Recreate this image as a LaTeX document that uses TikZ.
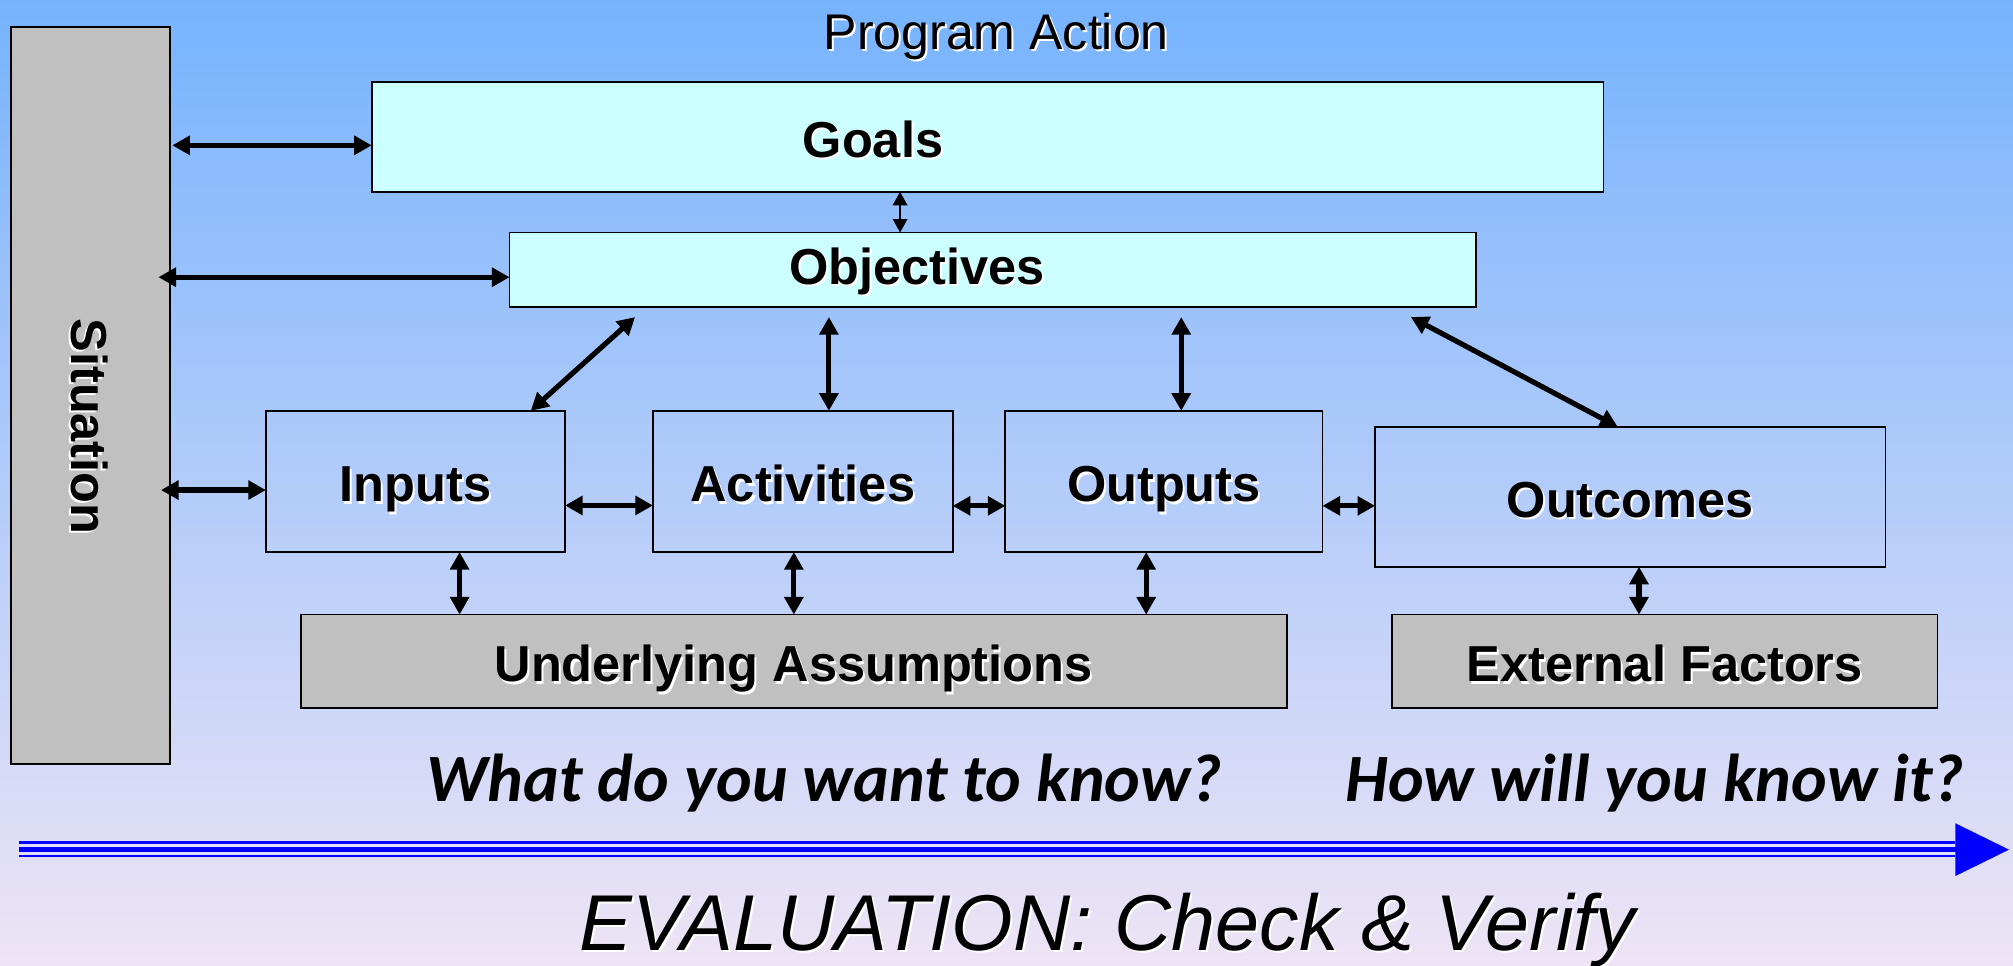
\documentclass[tikz,border=0pt]{standalone}
\usepackage{fontspec}
\setmainfont{Liberation Sans}
\newfontfamily\askfont{Carlito}
\usepackage{tikz}
\usetikzlibrary{shapes,arrows.meta,positioning,calc}
\usepackage{xcolor}
\definecolor{skytop}{HTML}{76B3FE}
\definecolor{skybottom}{HTML}{EEE4F5}
\definecolor{palecyan}{HTML}{CCFFFF}
\definecolor{panelgray}{HTML}{C0C0C0}
\definecolor{evalblue}{HTML}{0000FF}
\newcommand{\shtext}[1]{\makebox[0pt][l]{\hspace{0.45pt}\raisebox{-0.45pt}{\color{white}#1}}#1}

\begin{document}
\begin{tikzpicture}
    \tikzstyle{box} = [rectangle, draw, line width=0.4pt, inner sep=0pt, outer sep=0pt, text height=0.38cm, text depth=0.06cm, font=\fontsize{11.2}{13}\selectfont\bfseries]
    \tikzstyle{goalbox} = [box, fill=palecyan]
    \tikzstyle{factbox} = [box, fill=panelgray]
    \tikzstyle{boxtext} = [inner sep=0pt, text height=0.38cm, text depth=0.06cm, font=\fontsize{11.2}{13}\selectfont\bfseries]
    \tikzstyle{arrow} = [line width=1.15pt, {Triangle[length=3.9pt,width=4.1pt]}-{Triangle[length=3.9pt,width=4.1pt]}]
    \tikzstyle{thinarrow} = [line width=0.4pt, {Triangle[length=3pt,width=3.2pt]}-{Triangle[length=3pt,width=3.2pt]}]

    % Background
    \useasboundingbox (0,0) rectangle (15.68,-7.52);
    \shade[top color=skytop, bottom color=skybottom] (0,0) rectangle (15.68,-7.52);

    % Nodes
    \node[factbox, minimum width=1.24cm, minimum height=5.74cm] (sit) at (0.704,-3.082) {};
    \node[boxtext, rotate=-90] (sittxt) at ($(sit.center)+(0.01,-0.24)$) {\shtext{Situation}};

    \node[goalbox, minimum width=9.595cm, minimum height=0.857cm] (goals) at (7.693,-1.065) {};
    \node[boxtext] (goalstxt) at ($(goals.center)+(-0.893,0)$) {\shtext{Goals}};
    \node[goalbox, minimum width=7.53cm, minimum height=0.577cm] (obj) at (7.734,-2.10) {};
    \node[boxtext] (objtxt) at ($(obj.center)+(-0.591,0.047)$) {\shtext{Objectives}};

    \node[box, minimum width=2.33cm, minimum height=1.10cm] (inputs) at (3.236,-3.75) {\shtext{Inputs}};
    \node[box, minimum width=2.335cm, minimum height=1.10cm, right=0.685cm of inputs] (act) {\shtext{Activities}};
    \node[box, minimum width=2.47cm, minimum height=1.10cm, right=0.41cm of act] (out) {\shtext{Outputs}};
    \node[box, minimum width=3.975cm, minimum height=1.09cm, right=0.41cm of out, yshift=-0.119cm] (outc) {\shtext{Outcomes}};

    \node[factbox, minimum width=7.68cm, minimum height=0.73cm] (assum) at (6.182,-5.152) {\shtext{Underlying Assumptions}};
    \node[factbox, minimum width=4.25cm, minimum height=0.73cm, right=0.82cm of assum] (ext) {\shtext{External Factors}};

    \node[anchor=base, font=\fontsize{11.1}{13}\selectfont] (progact) at (7.76,-0.384) {\shtext{Program Action}};
    \node[anchor=base, font=\askfont\fontsize{15}{18}\selectfont\bfseries\itshape] (askwhat) at (6.42,-6.245) {What do you want to know?};
    \node[anchor=base, font=\askfont\fontsize{15}{18}\selectfont\bfseries\itshape] (askhow) at (12.89,-6.245) {How will you know it?};
    \node[anchor=base, font=\fontsize{17.55}{20}\selectfont\itshape] (evaltxt) at (8.625,-7.406) {\shtext{EVALUATION: Check \& Verify}};

    % Evaluation arrow
    \coordinate (evstart) at (0.15,-6.618);
    \coordinate (evend) at (15.65,-6.618);
    \draw[evalblue, line width=1.25pt, -{Triangle[length=0.42cm,width=0.40cm]}] (evstart) -- (evend);
    \draw[evalblue, line width=0.6pt] ([yshift=0.058cm]evstart) -- ([yshift=0.058cm,xshift=-0.42cm]evend);
    \draw[evalblue, line width=0.6pt] ([yshift=-0.049cm]evstart) -- ([yshift=-0.049cm,xshift=-0.42cm]evend);

    % Arrows
    \draw[arrow] ($(sit.east |- goals.west)+(0.018,-0.067)$) -- ($(goals.west)+(0,-0.067)$);
    \draw[arrow] ($(sit.east |- obj.west)+(-0.09,-0.059)$) -- ($(obj.west)+(0,-0.059)$);
    \draw[arrow] ($(sit.east |- inputs.west)+(-0.07,-0.067)$) -- ($(inputs.west)+(0,-0.067)$);
    \draw[thinarrow] ($(goals.south)+(-0.682,0)$) -- ($(goals.south |- obj.north)+(-0.682,0)$);
    \draw[arrow] ($(obj.south)+(-2.787,-0.081)$) -- ($(inputs.north)+(0.898,0)$);
    \draw[arrow] ($(act.north |- obj.south)+(0.203,-0.081)$) -- ($(act.north)+(0.203,0)$);
    \draw[arrow] ($(out.north |- obj.south)+(0.135,-0.081)$) -- ($(out.north)+(0.135,0)$);
    \draw[arrow] ($(obj.south)+(3.256,-0.081)$) -- ($(outc.north)+(-0.098,0)$);
    \draw[arrow] ($(inputs.east)+(0,-0.187)$) -- ($(act.west)+(0,-0.187)$);
    \draw[arrow] ($(act.east)+(0,-0.19)$) -- ($(out.west)+(0,-0.19)$);
    \draw[arrow] ($(out.east)+(0,-0.19)$) -- ($(out.east -| outc.west)+(0,-0.19)$);
    \draw[arrow] ($(inputs.south)+(0.344,0)$) -- ($(inputs.south |- assum.north)+(0.344,0)$);
    \draw[arrow] ($(act.south)+(-0.07,0)$) -- ($(act.south |- assum.north)+(-0.07,0)$);
    \draw[arrow] ($(out.south)+(-0.138,0)$) -- ($(out.south |- assum.north)+(-0.138,0)$);
    \draw[arrow] ($(outc.south)+(0.068,0)$) -- ($(outc.south |- ext.north)+(0.068,0)$);
\end{tikzpicture}
\end{document}
